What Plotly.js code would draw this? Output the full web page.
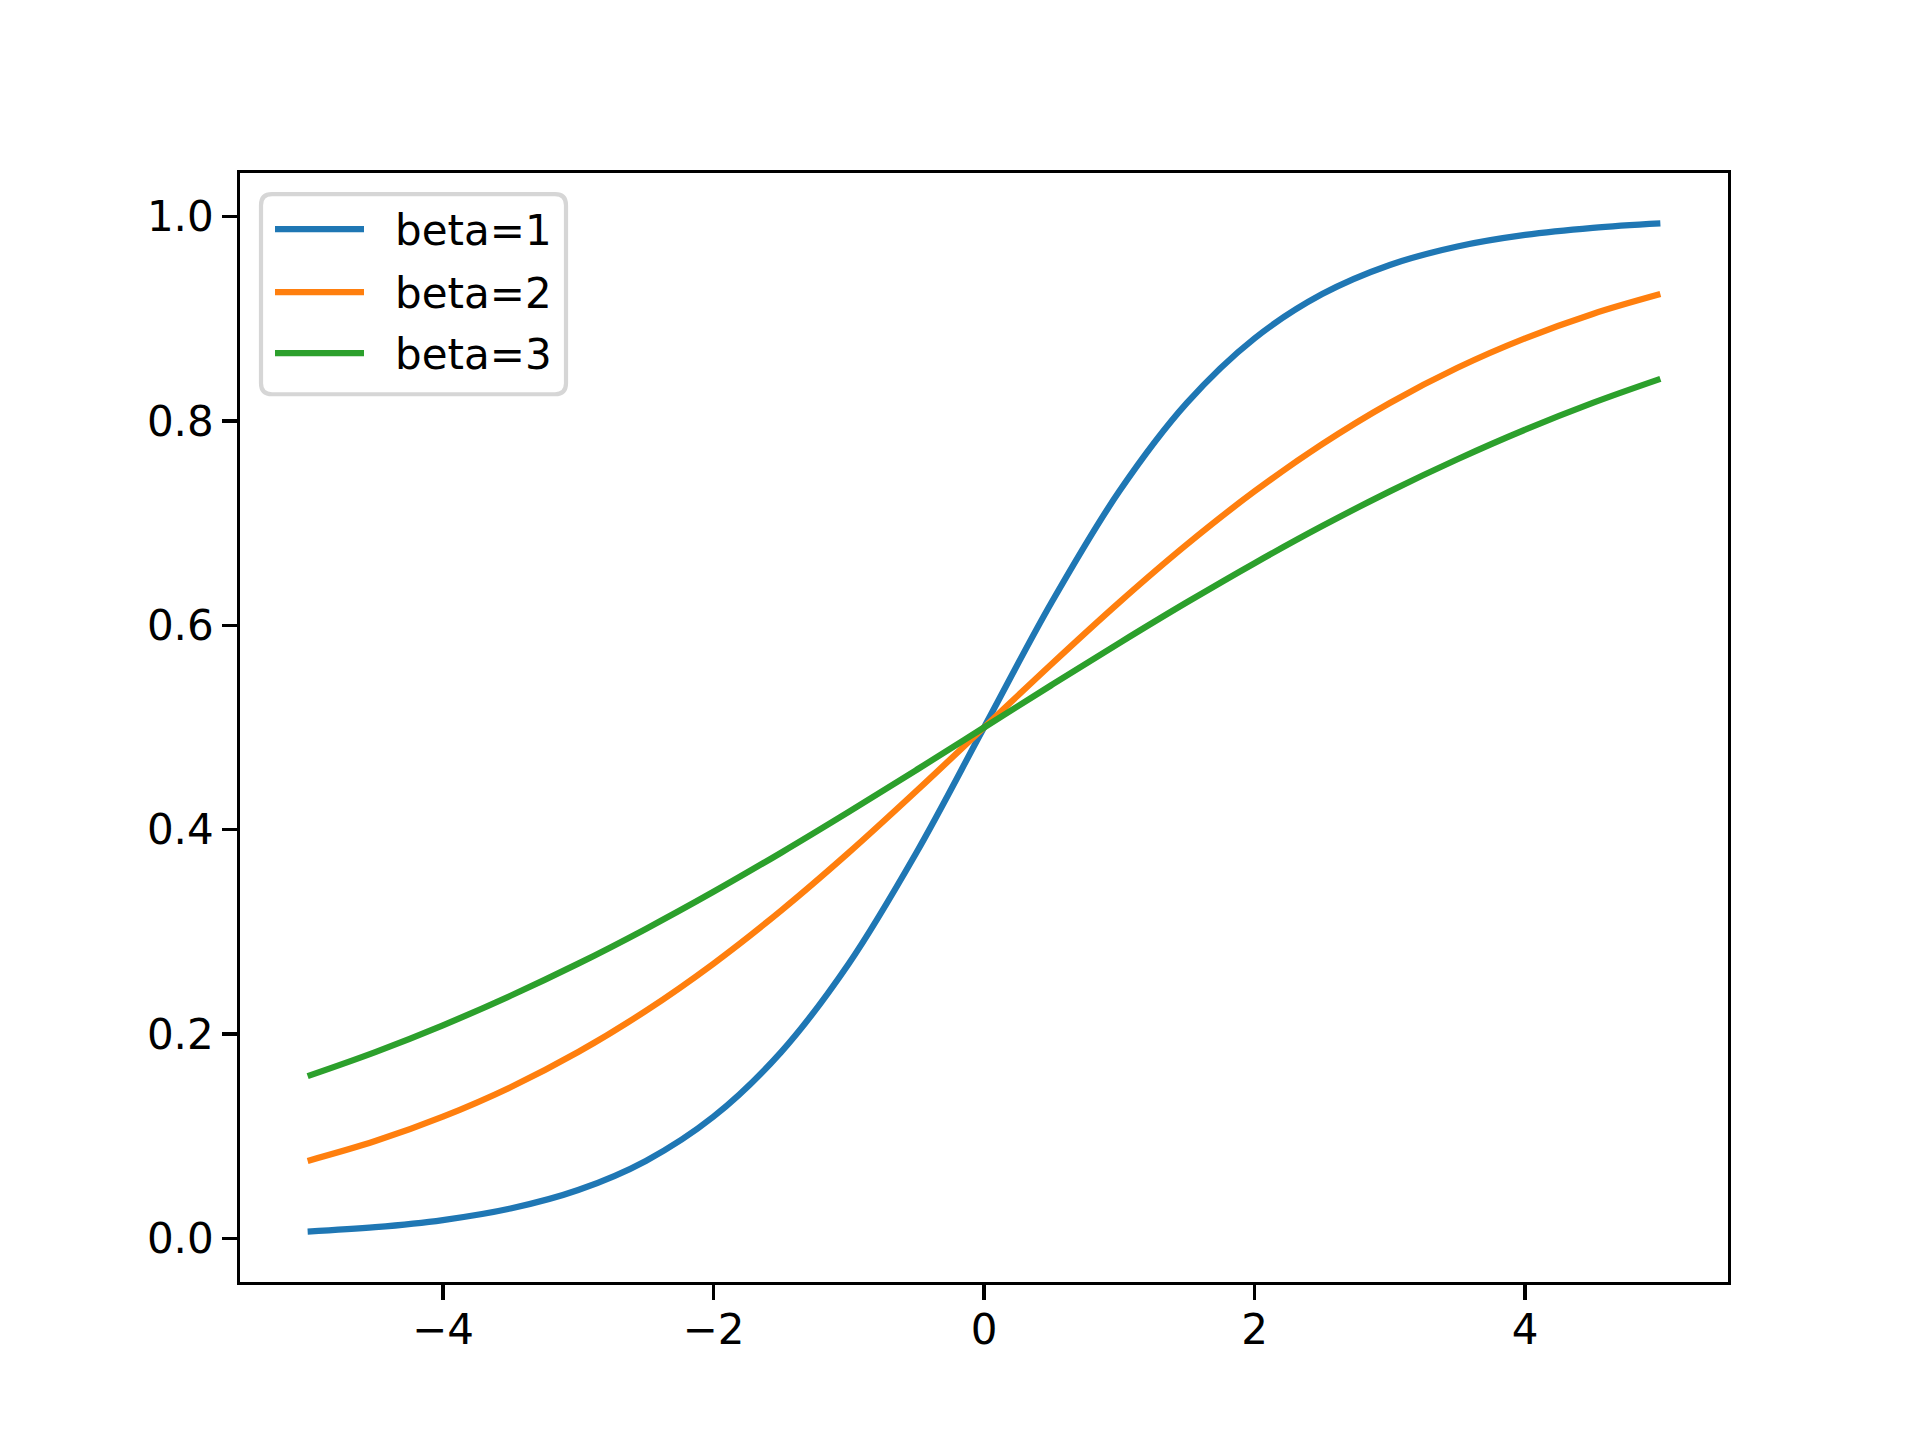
<!DOCTYPE html>
<html>
<head>
<meta charset="utf-8">
<script src="https://cdn.plot.ly/plotly-3.0.1.min.js"></script>
<style>html,body{margin:0;padding:0;background:#fff;}#chart{width:1920px;height:1440px;}</style>
</head>
<body>
<div id="chart"></div>
<script>
const xValues = [-5, -4.5, -4, -3.5, -3, -2.5, -2, -1.5, -1, -0.5, 0, 0.5, 1, 1.5, 2, 2.5, 3, 3.5, 4, 4.5, 5];
const beta1 = [0.0067, 0.0110, 0.0180, 0.0293, 0.0474, 0.0759, 0.1192, 0.1824, 0.2689, 0.3775, 0.5000, 0.6225, 0.7311, 0.8176, 0.8808, 0.9241, 0.9526, 0.9707, 0.9820, 0.9890, 0.9933];
const beta2 = [0.0759, 0.0953, 0.1192, 0.1480, 0.1824, 0.2227, 0.2689, 0.3208, 0.3775, 0.4378, 0.5000, 0.5622, 0.6225, 0.6792, 0.7311, 0.7773, 0.8176, 0.8520, 0.8808, 0.9047, 0.9241];
const beta3 = [0.1589, 0.1824, 0.2086, 0.2375, 0.2689, 0.3029, 0.3392, 0.3775, 0.4174, 0.4584, 0.5000, 0.5416, 0.5826, 0.6225, 0.6608, 0.6971, 0.7311, 0.7625, 0.7914, 0.8176, 0.8411];
const seriesNames = ["beta=1", "beta=2", "beta=3"];
const seriesColors = ["#1f77b4", "#ff7f0e", "#2ca02c"];
const xTickVals = [-4, -2, 0, 2, 4];
const xTickText = ["\u22124", "\u22122", "0", "2", "4"];
const yTickVals = [0.0, 0.2, 0.4, 0.6, 0.8, 1.0];
const yTickText = ["0.0", "0.2", "0.4", "0.6", "0.8", "1.0"];

const seriesValues = [beta1, beta2, beta3];
const traces = seriesValues.map((ys, i) => ({
  x: xValues, y: ys, type: "scatter", mode: "lines", name: seriesNames[i],
  line: {color: seriesColors[i], width: 6.25, shape: "spline", smoothing: 1},
  showlegend: false, hoverinfo: "skip"
}));

// plot area in pixels
const L = 240, R = 1728, T = 172.8, B = 1281.6;
const W = R - L, H = B - T;
const px = v => (v - L) / W;
const py = v => (B - v) / H;

// manual matplotlib-style legend
const shapes = [];
const annotations = [];
const bx0 = 261, bx1 = 566, by0 = 194, by1 = 394, rad = 11;
const rx = rad / W, ry = rad / H;
const X0 = px(bx0), X1 = px(bx1), Y0 = py(by1), Y1 = py(by0);
shapes.push({
  type: "path", xref: "paper", yref: "paper",
  path: `M ${X0 + rx},${Y0} L ${X1 - rx},${Y0} Q ${X1},${Y0} ${X1},${Y0 + ry} L ${X1},${Y1 - ry} Q ${X1},${Y1} ${X1 - rx},${Y1} L ${X0 + rx},${Y1} Q ${X0},${Y1} ${X0},${Y1 - ry} L ${X0},${Y0 + ry} Q ${X0},${Y0} ${X0 + rx},${Y0} Z`,
  fillcolor: "rgba(255,255,255,0.8)", line: {color: "#d6d6d6", width: 4.2}, layer: "above"
});
const entryY = [229, 292, 353];
seriesNames.forEach((name, i) => {
  shapes.push({
    type: "line", xref: "paper", yref: "paper",
    x0: px(275), x1: px(364), y0: py(entryY[i]), y1: py(entryY[i]),
    line: {color: seriesColors[i], width: 6.25}, layer: "above"
  });
  annotations.push({
    xref: "paper", yref: "paper", x: px(393), y: py(entryY[i] + 1),
    xanchor: "left", yanchor: "middle", text: name, showarrow: false,
    font: {family: "DejaVu Sans", size: 42, color: "#000"}
  });
});

const axisCommon = {
  showgrid: false, zeroline: false, showline: true, mirror: true,
  linecolor: "#000", linewidth: 3.3, ticks: "outside", ticklen: 14.6,
  tickwidth: 3.3, tickcolor: "#000",
  tickfont: {family: "DejaVu Sans", size: 42, color: "#000"}
};

const layout = {
  width: 1920, height: 1440,
  margin: {l: L, r: 1920 - R, t: T, b: 1440 - B, pad: 0},
  paper_bgcolor: "#fff", plot_bgcolor: "#fff",
  xaxis: Object.assign({}, axisCommon, {range: [-5.5, 5.5], tickmode: "array", tickvals: xTickVals, ticktext: xTickText, ticklabelstandoff: -6}),
  yaxis: Object.assign({}, axisCommon, {range: [-0.0426, 1.0426], tickmode: "array", tickvals: yTickVals, ticktext: yTickText}),
  shapes: shapes, annotations: annotations, showlegend: false
};

Plotly.newPlot("chart", traces, layout, {staticPlot: true});
</script>
</body>
</html>
